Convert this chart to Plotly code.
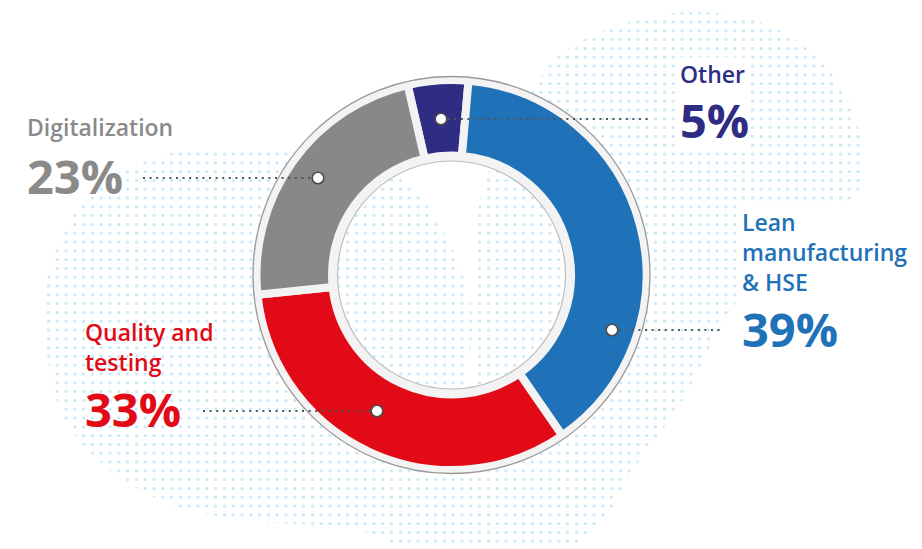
import numpy as np
import plotly.graph_objects as go

# ---------------- data ----------------
categories = ["Other", "Lean manufacturing & HSE", "Quality and testing", "Digitalization"]
shares = [5, 39, 33, 23]
pct_labels = ["5%", "39%", "33%", "23%"]
slice_colors = ["#2e2d83", "#1f72b8", "#e20a16", "#888888"]
text_colors = ["#2e2d83", "#1f72b8", "#e20a16", "#8a8a8a"]
name_labels = ["Other", "Lean<br>manufacturing<br>& HSE", "Quality and<br>testing", "Digitalization"]

# ---------------- layout constants (pixels) ----------------
W, H = 922, 549
CX, CY = 451.5, 275.0
R_PIE = 195.0
R_HOLE = 119.5
R_RING_OUT = 198.5
R_RING_IN = 114.0
GAP = 8
FONT = "Open Sans"
NAME_SIZE = 23
PCT_SIZE = 47

fig = go.Figure()

# dotted background blobs
pattern = dict(shape=".", fgcolor="#86cdf0", bgcolor="white", size=8.8, solidity=0.1)
blob_left = [(55, 250), (100, 185), (170, 153), (260, 147), (330, 150), (400, 175), (470, 300),
             (450, 450), (420, 545), (350, 528), (240, 520), (165, 502), (110, 470), (65, 420),
             (45, 330), (55, 250)]
blob_right = [(520, 110), (560, 55), (620, 25), (690, 12), (760, 22), (815, 55), (850, 105),
              (863, 165), (850, 205), (790, 228), (750, 260), (737, 300), (715, 337), (683, 400),
              (640, 460), (603, 520), (570, 547), (480, 549), (420, 545), (470, 400), (480, 200),
              (520, 110)]
for blob in (blob_left, blob_right):
    bx, by = zip(*blob)
    fig.add_trace(go.Scatter(x=list(bx), y=list(by), mode="lines", fill="toself",
                             line=dict(width=0, shape="spline", smoothing=1.0),
                             fillcolor="rgba(0,0,0,0)", fillpattern=pattern,
                             hoverinfo="skip", showlegend=False))

# light grey ring behind the donut (annulus)
t = np.linspace(0, 2 * np.pi, 241)
xo = CX + R_RING_OUT * np.cos(t)
yo = CY + R_RING_OUT * np.sin(t)
xi = CX + R_RING_IN * np.cos(t[::-1])
yi = CY + R_RING_IN * np.sin(t[::-1])
fig.add_trace(go.Scatter(x=np.concatenate([xo, xi]), y=np.concatenate([yo, yi]), mode="lines",
                         fill="toself", fillcolor="#f3f3f3", line=dict(width=0),
                         hoverinfo="skip", showlegend=False))

# donut
fig.add_trace(go.Pie(
    labels=categories, values=shares, sort=False, direction="clockwise", rotation=-13,
    hole=R_HOLE / R_PIE,
    marker=dict(colors=slice_colors, line=dict(color="#f3f3f3", width=GAP)),
    textinfo="none", hoverinfo="label+percent", showlegend=False,
    domain=dict(x=[(CX - R_PIE) / W, (CX + R_PIE) / W],
                y=[1 - (CY + R_PIE) / H, 1 - (CY - R_PIE) / H]),
))

shapes = []
# ring outlines
shapes.append(dict(type="circle", xref="x", yref="y", layer="above",
                   x0=CX - R_RING_OUT, x1=CX + R_RING_OUT, y0=CY - R_RING_OUT, y1=CY + R_RING_OUT,
                   line=dict(color="#9a9a9a", width=1.3)))
shapes.append(dict(type="circle", xref="x", yref="y", layer="above",
                   x0=CX - R_RING_IN, x1=CX + R_RING_IN, y0=CY - R_RING_IN, y1=CY + R_RING_IN,
                   line=dict(color="#bdbdbd", width=1.2)))

# callouts: (dot x, dot y, line end x)
callouts = [(441, 119, 652), (612, 330, 722), (377, 411, 203), (318, 178, 143)]
for (dx, dy, ex) in callouts:
    shapes.append(dict(type="line", xref="x", yref="y", layer="above",
                       x0=min(dx, ex), x1=max(dx, ex), y0=dy, y1=dy,
                       line=dict(color="#555555", width=2, dash="2px,4.6px")))
for (dx, dy, ex) in callouts:
    r = 5.8
    shapes.append(dict(type="circle", xref="x", yref="y", layer="above",
                       x0=dx - r, x1=dx + r, y0=dy - r, y1=dy + r,
                       fillcolor="white", line=dict(color="#4a4a4a", width=1.6)))

# text blocks: (left x, name first baseline, pct baseline, knockout)
text_pos = [
    (679, 82, 137.5, True),
    (741, 230, 346, True),
    (84, 340, 426, False),
    (26, 135, 193, False),
]
annotations = []
for i, (lx, name_base, pct_base, knock) in enumerate(text_pos):
    bg = "white" if knock else "rgba(0,0,0,0)"
    annotations.append(dict(x=lx, y=name_base - 1.069 * NAME_SIZE, xref="x", yref="y",
                            text=name_labels[i], showarrow=False, align="left",
                            xanchor="left", yanchor="top", bgcolor=bg, borderpad=0,
                            font=dict(family=FONT, size=NAME_SIZE, color=text_colors[i], weight=600)))
    annotations.append(dict(x=lx, y=pct_base - 1.069 * PCT_SIZE, xref="x", yref="y",
                            text=pct_labels[i], showarrow=False,
                            xanchor="left", yanchor="top", bgcolor=bg, borderpad=0,
                            font=dict(family=FONT, size=PCT_SIZE, color=text_colors[i], weight=700)))

fig.update_layout(
    width=W, height=H, margin=dict(l=0, r=0, t=0, b=0),
    paper_bgcolor="white", plot_bgcolor="white",
    xaxis=dict(range=[0, W], visible=False, fixedrange=True),
    yaxis=dict(range=[H, 0], visible=False, fixedrange=True),
    shapes=shapes, annotations=annotations, showlegend=False,
)

fig.write_html("out.html")
